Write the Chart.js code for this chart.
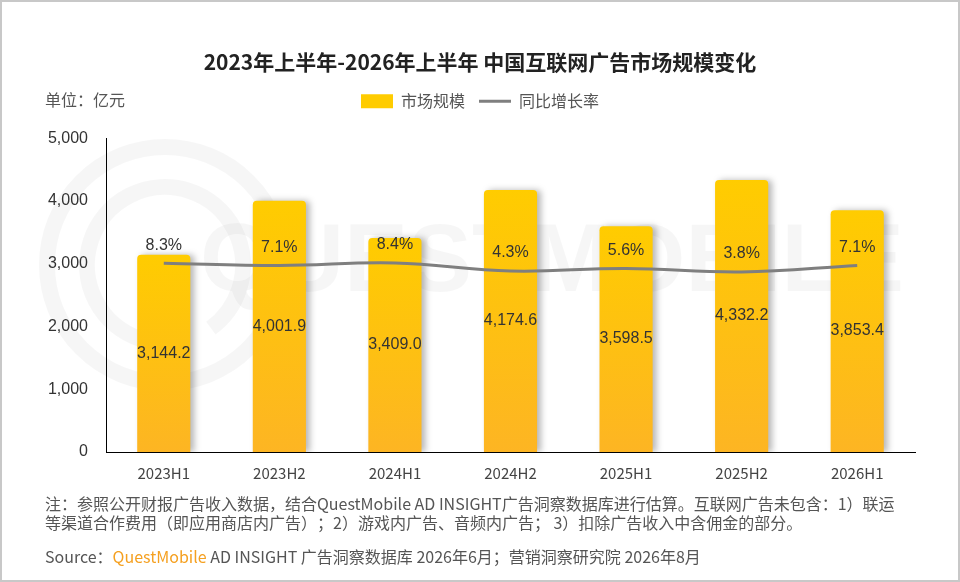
<!DOCTYPE html>
<html>
<head>
<meta charset="utf-8">
<script src="https://cdn.jsdelivr.net/npm/chart.js@4.4.1/dist/chart.umd.min.js"></script>
<style>
  html, body { margin: 0; padding: 0; background: #fff; }
  canvas { display: block; }
</style>
</head>
<body>
<canvas id="adChart" width="960" height="582"></canvas>
<script>
// 数据
const periods = ['2023H1', '2023H2', '2024H1', '2024H2', '2025H1', '2025H2', '2026H1'];
const marketSize = [3144.2, 4001.9, 3409.0, 4174.6, 3598.5, 4332.2, 3853.4];
const growthRate = [8.3, 7.1, 8.4, 4.3, 5.6, 3.8, 7.1];
const yTicks = [0, 1000, 2000, 3000, 4000, 5000];

const cjk = '"Noto Sans CJK SC", "Noto Sans", sans-serif';
const num = '"Liberation Sans", Arial, sans-serif';

// bars: light yellow at the top, deeper orange-yellow toward the axis
function barGradient(c) {
    const chart = c.chart;
    const area = chart.chartArea;
    if (!area || !chart.scales.y || c.raw == null) return '#FFC20E';
    const top = chart.scales.y.getPixelForValue(c.raw);
    const g = chart.ctx.createLinearGradient(0, top, 0, area.bottom);
    g.addColorStop(0, '#FFCC00');
    g.addColorStop(1, '#FDB523');
    return g;
}

// faint watermark + outer frame
const backdrop = {
    id: 'backdrop',
    beforeDraw(chart) {
        const ctx = chart.ctx;
        ctx.save();
        ctx.strokeStyle = 'rgba(0,0,0,0.035)';
        ctx.lineWidth = 16;
        ctx.beginPath();
        ctx.arc(165, 265, 118, 0, Math.PI * 2);
        ctx.stroke();
        ctx.beginPath();
        ctx.arc(165, 265, 78, Math.PI * 0.6, Math.PI * 2.3);
        ctx.stroke();
        ctx.fillStyle = 'rgba(0,0,0,0.035)';
        ctx.font = 'bold 96px ' + num;
        ctx.textBaseline = 'middle';
        ctx.fillText('QUESTMOBILE', 200, 265, 715);
        ctx.restore();
    },
    afterDraw(chart) {
        const ctx = chart.ctx;
        ctx.save();
        ctx.strokeStyle = '#c8c8c8';
        ctx.lineWidth = 2;
        ctx.strokeRect(1, 1, chart.width - 2, chart.height - 2);
        ctx.restore();
    }
};

// a bit more room under the legend
const legendGap = {
    id: 'legendGap',
    beforeLayout(chart) {
        const lg = chart.legend;
        if (!lg || lg._gapPatched) return;
        const fit = lg.fit;
        lg.fit = function () {
            fit.call(this);
            this.height += 19;
        };
        lg._gapPatched = true;
    }
};

// soft shadow to the right of each bar
const barShadow = {
    id: 'barShadow',
    beforeDatasetDraw(chart, args) {
        if (args.index !== 0) return;
        const ctx = chart.ctx;
        ctx.save();
        ctx.shadowColor = 'rgba(0,0,0,0.28)';
        ctx.shadowOffsetX = 4;
        ctx.shadowOffsetY = 0;
        ctx.shadowBlur = 6;
    },
    afterDatasetDraw(chart, args) {
        if (args.index !== 0) return;
        chart.ctx.restore();
    }
};

// value labels, unit text and footnotes
const textLayer = {
    id: 'textLayer',
    afterDatasetsDraw(chart) {
        const ctx = chart.ctx;
        ctx.save();
        ctx.font = '16px ' + num;
        ctx.fillStyle = '#333';
        ctx.textAlign = 'center';
        ctx.textBaseline = 'middle';
        chart.getDatasetMeta(0).data.forEach((bar, i) => {
            const txt = marketSize[i].toLocaleString('en-US', { minimumFractionDigits: 1, maximumFractionDigits: 1 });
            ctx.fillText(txt, bar.x, (bar.y + bar.base) / 2);
        });
        chart.getDatasetMeta(1).data.forEach((pt, i) => {
            ctx.fillText(growthRate[i].toFixed(1) + '%', pt.x, pt.y - 18);
        });
        ctx.restore();
    },
    afterDraw(chart) {
        const ctx = chart.ctx;
        ctx.save();
        ctx.textBaseline = 'middle';
        ctx.textAlign = 'left';
        ctx.fillStyle = '#555';
        ctx.font = '16px ' + cjk;
        ctx.fillText('单位：亿元', 45, 100);

        ctx.fillText('注：参照公开财报广告收入数据，结合QuestMobile AD INSIGHT广告洞察数据库进行估算。互联网广告未包含：1）联运', 45, 504);
        ctx.fillText('等渠道合作费用（即应用商店内广告）；2）游戏内广告、音频内广告； 3）扣除广告收入中含佣金的部分。', 45, 523);

        let x = 45;
        const y = 557;
        const parts = [
            ['Source：', '#555'],
            ['QuestMobile', '#F5A020'],
            [' AD INSIGHT 广告洞察数据库 2026年6月；营销洞察研究院 2026年8月', '#555']
        ];
        parts.forEach(([t, col]) => {
            ctx.fillStyle = col;
            ctx.fillText(t, x, y);
            x += ctx.measureText(t).width;
        });
        ctx.restore();
    }
};

new Chart(document.getElementById('adChart'), {
    data: {
        labels: periods,
        datasets: [
            {
                type: 'bar',
                label: '市场规模',
                data: marketSize,
                yAxisID: 'y',
                backgroundColor: barGradient,
                borderWidth: 0,
                borderRadius: 4,
                barPercentage: 0.46,
                categoryPercentage: 1,
                pointStyle: 'rect',
                order: 2
            },
            {
                type: 'line',
                label: '同比增长率',
                data: growthRate,
                yAxisID: 'y1',
                borderColor: '#7f7f7f',
                backgroundColor: '#7f7f7f',
                borderWidth: 3,
                tension: 0.4,
                pointRadius: 0,
                pointStyle: 'line',
                order: 1
            }
        ]
    },
    options: {
        responsive: false,
        animation: false,
        layout: {
            padding: { top: 49, right: 45, bottom: 0, left: 45 }
        },
        plugins: {
            title: {
                display: true,
                text: '2023年上半年-2026年上半年 中国互联网广告市场规模变化',
                color: '#222',
                font: { family: cjk, size: 21, weight: 'bold' },
                padding: { top: 0, bottom: 5 }
            },
            legend: {
                position: 'top',
                labels: {
                    color: '#555',
                    font: { family: cjk, size: 16 },
                    usePointStyle: true,
                    pointStyleWidth: 32,
                    boxHeight: 14,
                    padding: 14,
                    sort: (a, b) => a.datasetIndex - b.datasetIndex
                }
            },
            tooltip: { enabled: false }
        },
        scales: {
            x: {
                grid: { display: false },
                border: { display: true, color: '#000', width: 1 },
                ticks: {
                    color: '#444',
                    font: { family: cjk, size: 15 },
                    padding: 4
                },
                afterFit(scale) { scale.height = 130; }
            },
            y: {
                position: 'left',
                min: 0,
                max: 5000,
                afterBuildTicks(scale) {
                    scale.ticks = yTicks.map(v => ({ value: v }));
                },
                grid: { display: false },
                border: { display: true, color: '#000', width: 1 },
                ticks: {
                    color: '#333',
                    font: { family: num, size: 16 },
                    padding: 10,
                    callback: v => v.toLocaleString('en-US')
                },
                afterFit(scale) { scale.width = 61; }
            },
            y1: {
                display: false,
                min: -88,
                max: 72
            }
        }
    },
    plugins: [backdrop, legendGap, barShadow, textLayer]
});
</script>
</body>
</html>
